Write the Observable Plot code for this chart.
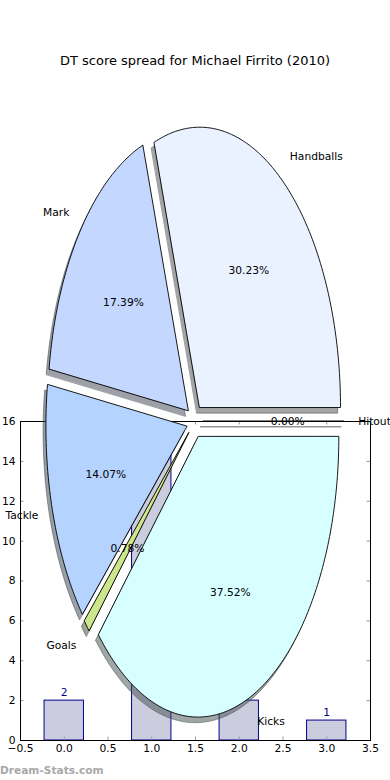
<!DOCTYPE html>
<html><head><meta charset="utf-8">
<script src="https://cdn.jsdelivr.net/npm/d3@7"></script>
<script src="https://cdn.jsdelivr.net/npm/@observablehq/plot@0.6"></script>
<style>
body{margin:0;background:#fff;}
#wrap{position:relative;width:390px;height:780px;overflow:hidden;font-family:"DejaVu Sans",sans-serif;background:#fff;}
#wrap svg{position:absolute;left:0;top:0;}
#title{position:absolute;left:0;width:390px;top:52px;text-align:center;font-size:13px;line-height:18px;color:#000;}
#wm{position:absolute;left:0;top:763px;font-size:10.6px;font-weight:bold;color:#a8a8a8;line-height:14px;}
</style></head><body>
<div id="wrap"><div id="title"></div><div id="wm"></div></div>
<script>
const titleText = "DT score spread for Michael Firrito (2010)";
const watermark = "Dream-Stats.com";

const pieLabels = ["Hitout", "Handballs", "Mark", "Tackle", "Goals", "Kicks"];
const piePercents = [0.00, 30.23, 17.39, 14.07, 0.78, 37.52];
const pieColors = ["#f0f0ff", "#eaf2ff", "#c4d8ff", "#b4d4ff", "#cce68c", "#d8ffff"];
const explode = 0.06;

const barCats = [0, 1, 2, 3];
const barValues = [2, 15, 2, 1];
const xTicks = [-0.5, 0, 0.5, 1, 1.5, 2, 2.5, 3, 3.5];
const yTicks = [0, 2, 4, 6, 8, 10, 12, 14, 16];

document.getElementById("title").textContent = titleText;
document.getElementById("wm").textContent = watermark;

const W = 390, H = 780;
const baseStyle = {fontFamily: "DejaVu Sans", fontSize: "10.7px", color: "#000", background: "transparent"};

// ---- bar chart axes ----
const bm = {top: 421, bottom: 40, left: 20, right: 20};
const frameW = W - bm.left - bm.right, frameH = H - bm.top - bm.bottom;
const bars = barCats.map((c, i) => ({cat: c, value: barValues[i]}));
const barW = 0.45;
const tickLen = 3.5;
const barPlot = Plot.plot({
  width: W, height: H,
  marginTop: bm.top, marginBottom: bm.bottom, marginLeft: bm.left, marginRight: bm.right,
  x: {domain: [-0.5, 3.5]},
  y: {domain: [0, 16]},
  style: baseStyle,
  marks: [
    Plot.rect(bars, {x1: d => d.cat - barW / 2, x2: d => d.cat + barW / 2, y1: d => 0, y2: "value",
      fill: "#ccccdf", stroke: "#00008b", strokeWidth: 1}),
    Plot.text(bars, {x: "cat", y: "value", text: d => String(d.value), dy: -8, fill: "#00008b"}),
    Plot.tickX(xTicks, {x: d => d, insetTop: frameH - tickLen, stroke: "#999"}),
    Plot.tickX(xTicks, {x: d => d, insetBottom: frameH - tickLen, stroke: "#999"}),
    Plot.tickY(yTicks, {y: d => d, insetRight: frameW - tickLen, stroke: "#999"}),
    Plot.tickY(yTicks, {y: d => d, insetLeft: frameW - tickLen, stroke: "#999"}),
    Plot.frame({stroke: "#000", strokeWidth: 1}),
    Plot.axisX({ticks: xTicks, tickSize: 0, tickPadding: 4, tickFormat: d3.format(".1f"), label: null}),
    Plot.axisY({ticks: yTicks, tickSize: 0, tickPadding: 5, tickFormat: d3.format("d"), label: null})
  ]
});

// ---- pie axes ----
const pm = {left: 18.3, right: 19.7, top: 70.3, bottom: 8.9};
const total = d3.sum(piePercents);
let acc = 0;
const wedges = pieLabels.map((label, i) => {
  const t1 = acc / total * 2 * Math.PI;
  acc += piePercents[i];
  const t2 = acc / total * 2 * Math.PI;
  const tm = (t1 + t2) / 2;
  const ex = explode * Math.cos(tm), ey = explode * Math.sin(tm);
  const n = Math.max(2, Math.ceil((t2 - t1) / (2 * Math.PI) * 360));
  const pts = [{x: ex, y: ey}];
  for (let k = 0; k <= n; k++) {
    const t = t1 + (t2 - t1) * k / n;
    pts.push({x: ex + Math.cos(t), y: ey + Math.sin(t)});
  }
  const c = d3.rgb(pieColors[i]);
  const shadow = d3.rgb(c.r * 0.3, c.g * 0.3, c.b * 0.3).formatHex();
  return {
    label, pct: piePercents[i], color: pieColors[i], shadow, pts,
    lx: ex + 1.1 * Math.cos(tm), ly: ey + 1.1 * Math.sin(tm),
    px: ex + 0.6 * Math.cos(tm), py: ey + 0.6 * Math.sin(tm)
  };
});

const pieMarks = [];
for (const w of wedges) {
  pieMarks.push(Plot.line(w.pts.map(p => ({x: p.x - 0.02, y: p.y - 0.02})), {
    x: "x", y: "y", curve: "linear-closed", fill: w.shadow, fillOpacity: 0.5,
    stroke: w.shadow, strokeOpacity: 0.5, strokeWidth: 1
  }));
}
for (const w of wedges) {
  pieMarks.push(Plot.line(w.pts, {
    x: "x", y: "y", curve: "linear-closed", fill: w.color, stroke: "#000", strokeWidth: 0.9
  }));
}
pieMarks.push(Plot.text(wedges.filter(w => w.lx > 0), {x: "lx", y: "ly", text: "label", textAnchor: "start", fill: "#000"}));
pieMarks.push(Plot.text(wedges.filter(w => w.lx <= 0), {x: "lx", y: "ly", text: "label", textAnchor: "end", fill: "#000"}));
pieMarks.push(Plot.text(wedges, {x: "px", y: "py", text: d => d.pct.toFixed(2) + "%", textAnchor: "middle", fill: "#000"}));

const piePlot = Plot.plot({
  width: W, height: H,
  marginTop: pm.top, marginBottom: pm.bottom, marginLeft: pm.left, marginRight: pm.right,
  x: {domain: [-1.25, 1.25], axis: null},
  y: {domain: [-1.25, 1.25], axis: null},
  style: baseStyle,
  marks: pieMarks
});

const wrap = document.getElementById("wrap");
wrap.appendChild(barPlot);
wrap.appendChild(piePlot);
</script>
</body></html>
